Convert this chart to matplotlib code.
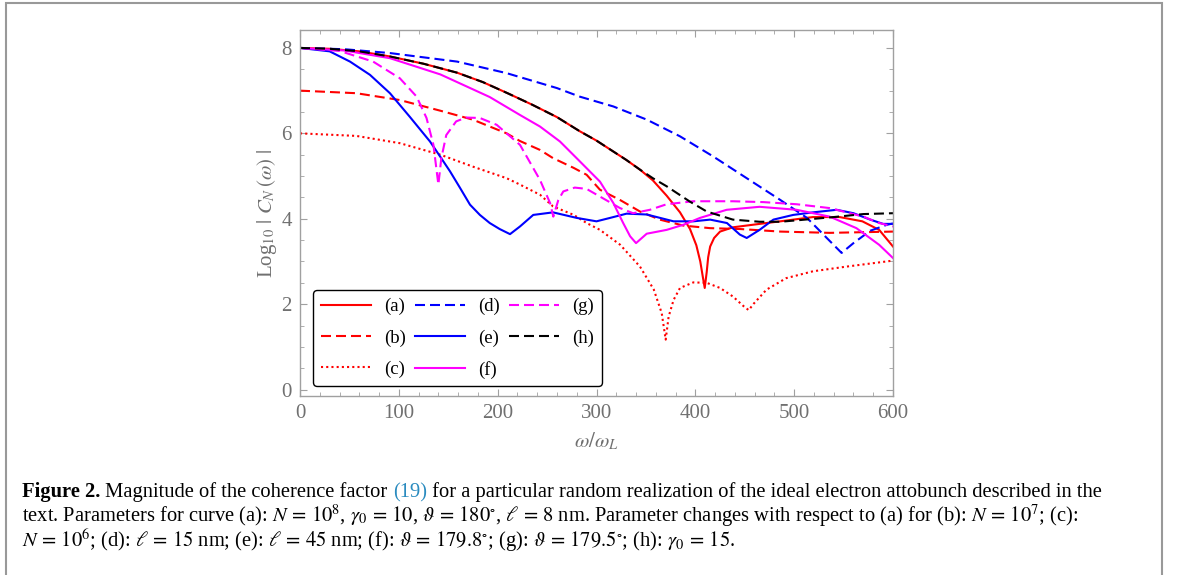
import matplotlib
matplotlib.use("Agg")
import matplotlib.pyplot as plt
from matplotlib.patches import Rectangle
from matplotlib.ticker import MultipleLocator

plt.rcParams['font.family'] = ['Liberation Serif', 'DejaVu Serif']
plt.rcParams['mathtext.fontset'] = 'stix'

# valores: omega/omega_L e Log10|C_N(omega)|
w_a = [0, 30, 60, 91, 125, 159, 185, 210, 235, 260, 283, 300, 314, 330, 344, 357, 371,
       384.5, 394.6, 401, 405, 407.5, 409.5, 411.5, 413, 415, 419, 425, 438, 465, 486,
       519, 546, 569, 586, 600]
L_a = [8.0, 7.98, 7.92, 7.8, 7.63, 7.42, 7.2, 6.94, 6.67, 6.38, 6.05, 5.83, 5.62, 5.38,
       5.15, 4.9, 4.54, 4.15, 3.76, 3.38, 3.0, 2.65, 2.38, 2.75, 3.1, 3.35, 3.55, 3.7,
       3.8, 3.88, 3.94, 4.04, 4.04, 3.94, 3.74, 3.35]

w_b = [0, 57, 101, 142, 175, 209, 222.6, 243, 256, 277, 290, 303.5, 323.8, 344, 364,
       388, 415, 445, 486, 536, 600]
L_b = [7.0, 6.94, 6.78, 6.53, 6.32, 6.0, 5.82, 5.61, 5.42, 5.19, 5.03, 4.68, 4.44,
       4.17, 3.98, 3.84, 3.78, 3.76, 3.7, 3.67, 3.7]

w_c = [0, 57, 101, 142, 175, 209, 222.6, 243, 256, 277, 290, 303.5, 324, 344, 358, 366,
       370, 373, 378, 384.5, 398, 411.5, 425, 438, 449, 454, 459, 472, 492, 519, 553, 600]
L_c = [6.0, 5.94, 5.77, 5.5, 5.22, 4.95, 4.8, 4.56, 4.29, 4.09, 3.9, 3.74, 3.39, 2.88,
       2.34, 1.79, 1.17, 1.71, 2.1, 2.38, 2.51, 2.5, 2.38, 2.18, 1.95, 1.86, 2.01, 2.34,
       2.61, 2.77, 2.88, 3.02]

w_d = [0, 45, 91, 159, 209, 260, 283, 317, 351, 384.5, 418, 452, 486, 513, 533, 548,
       560, 577, 594, 600]
L_d = [8.0, 7.97, 7.88, 7.68, 7.41, 7.06, 6.86, 6.63, 6.32, 5.93, 5.46, 4.95, 4.44,
       4.02, 3.55, 3.2, 3.43, 3.72, 3.86, 3.89]

w_e = [0, 30, 50.6, 70.8, 91, 111, 131.5, 141.7, 151.8, 162, 172, 182, 192, 202, 212.5,
       222.6, 236, 256, 280, 300, 313.7, 330.5, 350.8, 378, 398, 415, 432, 445, 452, 465,
       479, 499, 519, 543, 560, 577, 590, 600]
L_e = [8.0, 7.92, 7.68, 7.37, 6.94, 6.39, 5.81, 5.46, 5.11, 4.72, 4.33, 4.09, 3.9, 3.76,
       3.64, 3.82, 4.09, 4.15, 4.02, 3.94, 4.02, 4.12, 4.1, 3.94, 3.94, 3.98, 3.9, 3.63,
       3.55, 3.74, 3.98, 4.09, 4.15, 4.21, 4.13, 3.98, 3.88, 3.88]

w_f = [0, 45, 91, 142, 192, 222.6, 242.8, 263, 283.3, 303.5, 317, 327, 334, 340, 350.8,
       371, 388, 404.7, 431.7, 465, 502.5, 536, 563, 586, 600]
L_f = [8.0, 7.94, 7.76, 7.38, 6.85, 6.43, 6.16, 5.81, 5.34, 4.87, 4.37, 3.9, 3.59, 3.43,
       3.65, 3.74, 3.86, 4.02, 4.21, 4.28, 4.21, 4.05, 3.78, 3.39, 3.08]

w_g = [0, 40, 74, 101, 118, 128, 135, 140, 143, 148, 158, 168, 182, 199, 222.6, 242.8,
       253, 256.3, 261.4, 266.4, 278, 289.9, 303.5, 323.8, 337, 354, 371, 398, 438, 469,
       502.5, 536, 570, 586, 600]
L_g = [8.0, 7.93, 7.68, 7.29, 6.86, 6.36, 5.73, 4.8, 5.42, 5.96, 6.28, 6.37, 6.36, 6.2,
       5.73, 4.91, 4.37, 4.05, 4.44, 4.64, 4.73, 4.7, 4.52, 4.25, 4.13, 4.21, 4.34, 4.41,
       4.41, 4.39, 4.34, 4.25, 4.05, 3.9, 3.82]

w_h = [0, 30, 60, 91, 125, 159, 185, 210, 235, 260, 283, 300, 314, 330, 344, 357, 371,
       394.6, 411.5, 438, 465, 486, 506, 540, 570, 600]
L_h = [8.0, 7.98, 7.92, 7.8, 7.63, 7.42, 7.2, 6.94, 6.67, 6.38, 6.05, 5.83, 5.62, 5.38,
       5.15, 4.95, 4.76, 4.4, 4.17, 3.98, 3.93, 3.93, 3.97, 4.04, 4.11, 4.13]

rotulos = ["(a)", "(b)", "(c)", "(d)", "(e)", "(f)", "(g)", "(h)"]

tracejado = (0, (4.8, 2.4))
pontilhado = (0, (1.0, 1.5))

fig = plt.figure(figsize=(11.79, 5.75), dpi=100)
ax = fig.add_axes([300 / 1179, 1 - 396 / 575, 593 / 1179, 366 / 575])

lw = 1.5
ax.plot(w_a, L_a, color="#ff0000", lw=lw, label=rotulos[0])
ax.plot(w_b, L_b, color="#ff0000", lw=lw, ls=tracejado, label=rotulos[1])
ax.plot(w_c, L_c, color="#ff0000", lw=lw, ls=pontilhado, label=rotulos[2])
ax.plot(w_d, L_d, color="#0000ff", lw=lw, ls=tracejado, label=rotulos[3])
ax.plot(w_e, L_e, color="#0000ff", lw=lw, label=rotulos[4])
ax.plot(w_f, L_f, color="#ff00ff", lw=lw, label=rotulos[5])
ax.plot(w_g, L_g, color="#ff00ff", lw=lw, ls=tracejado, label=rotulos[6])
ax.plot(w_h, L_h, color="#000000", lw=lw, ls=tracejado, label=rotulos[7])

ax.set_xlim(0, 600)
ax.set_ylim(-0.15, 8.42)
ax.xaxis.set_major_locator(MultipleLocator(100))
ax.xaxis.set_minor_locator(MultipleLocator(20))
ax.yaxis.set_major_locator(MultipleLocator(2))
ax.yaxis.set_minor_locator(MultipleLocator(0.5))

for s in ax.spines.values():
    s.set_color("#a0a0a0")
    s.set_linewidth(1.0)
ax.tick_params(which="both", direction="in", top=True, right=True, color="#a0a0a0",
               labelcolor="#707070", labelsize=15, pad=6)
ax.tick_params(which="major", length=5, width=0.8)
ax.tick_params(which="minor", length=3, width=0.6)

ax.set_xlabel(r"$\omega/\omega_L$", fontsize=15, color="#707070")
ax.xaxis.set_label_coords(0.5, -0.095)
ax.set_ylabel(r"Log$_{10}$ $|$ $C_N\,(\omega)$ $|$", fontsize=15, color="#707070")
ax.yaxis.set_label_coords(-0.036, 0.5)

leg = ax.legend(ncol=3, loc="lower left", bbox_to_anchor=(0.022, 0.027), borderaxespad=0,
                fontsize=13.5, handlelength=2.7, handletextpad=0.7, columnspacing=0.45,
                labelspacing=0.75, fancybox=True, framealpha=1, edgecolor="black")
leg.get_frame().set_linewidth(1.0)

# moldura da página
moldura = Rectangle((6 / 1179, -0.05), 1156 / 1179, 1 - 3 / 575 + 0.05, transform=fig.transFigure,
                    fill=False, edgecolor="#999999", lw=1.5, clip_on=False)
fig.add_artist(moldura)

# legenda da figura (texto)
tam = 14.8
t1 = fig.text(22 / 1179, 1 - 497 / 575, "Figure 2.", fontsize=tam, fontweight="bold",
              va="baseline")
t2 = fig.text(0, 0, " Magnitude of the coherence factor ", fontsize=tam)
t3 = fig.text(0, 0, "(19)", fontsize=tam, color="#2a8bbf")
t4 = fig.text(0, 0, " for a particular random realization of the ideal electron attobunch described in the",
              fontsize=tam)
fig.canvas.draw()
r = fig.canvas.get_renderer()
x0 = t1.get_window_extent(r).x1 / fig.bbox.width
for t in (t2, t3, t4):
    t.set_position((x0, 1 - 497 / 575))
    t.set_va("baseline")
    x0 = t.get_window_extent(r).x1 / fig.bbox.width

fig.text(22 / 1179, 1 - 522 / 575,
         r"text. Parameters for curve (a): $N\,=\,10^8$, $\gamma_0\,=\,10$, $\vartheta\,=\,180^{\circ}$, "
         r"$\ell\,=\,8$ nm. Parameter changes with respect to (a) for (b): $N\,=\,10^7$; (c):",
         fontsize=tam, va="baseline")
fig.text(22 / 1179, 1 - 547 / 575,
         r"$N\,=\,10^6$; (d): $\ell\,=\,15$ nm; (e): $\ell\,=\,45$ nm; (f): $\vartheta\,=\,179.8^{\circ}$; "
         r"(g): $\vartheta\,=\,179.5^{\circ}$; (h): $\gamma_0\,=\,15$.",
         fontsize=tam, va="baseline")

fig.savefig("out.png", dpi=100)
